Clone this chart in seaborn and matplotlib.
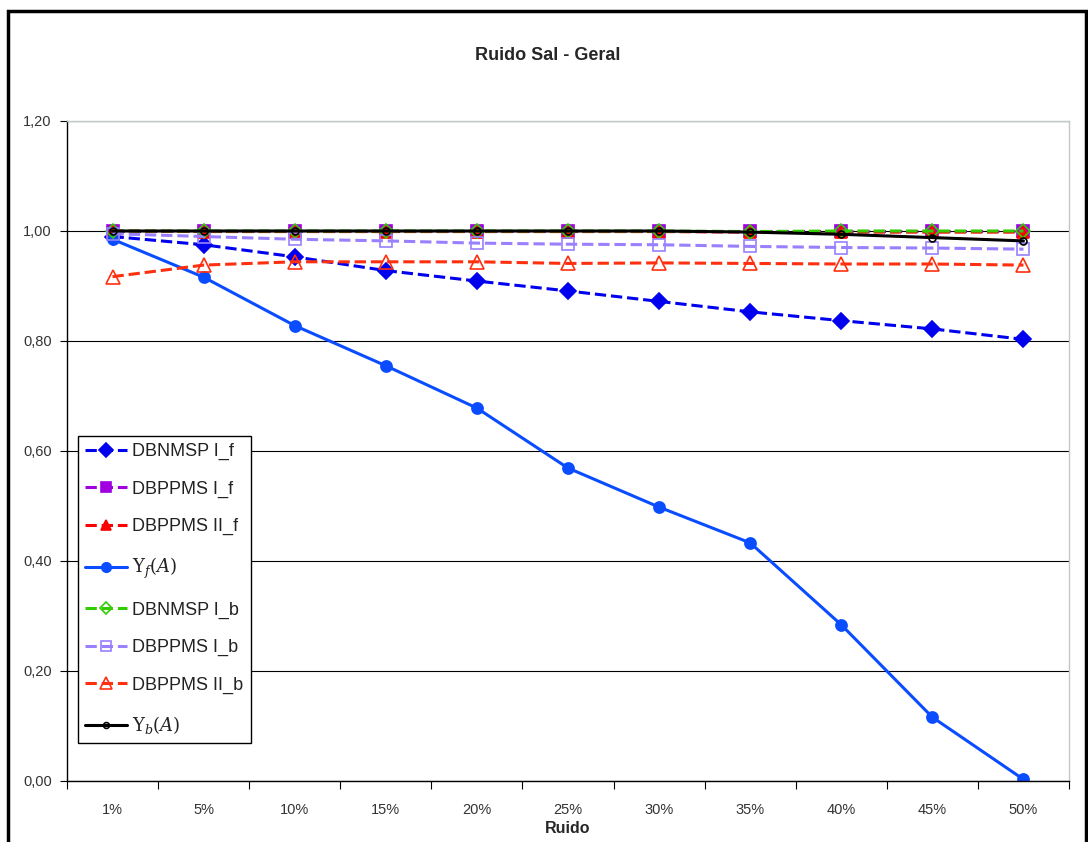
import numpy as np
import matplotlib
matplotlib.use('Agg')
import matplotlib.pyplot as plt
from matplotlib.patches import Rectangle
from matplotlib.ticker import FixedLocator, FuncFormatter
import seaborn as sns

# data
noise = ['1%', '5%', '10%', '15%', '20%', '25%', '30%', '35%', '40%', '45%', '50%']
dbnmsp_f = [0.990, 0.975, 0.953, 0.928, 0.909, 0.891, 0.872, 0.853, 0.837, 0.822, 0.803]
dbppms1_f = [1.000, 1.000, 1.000, 1.000, 1.000, 1.000, 1.000, 1.000, 1.000, 1.000, 1.000]
dbppms2_f = [1.000, 0.999, 0.999, 0.999, 0.999, 0.999, 0.999, 0.998, 0.998, 0.998, 0.998]
upsilon_f = [0.985, 0.916, 0.828, 0.755, 0.678, 0.569, 0.498, 0.433, 0.284, 0.116, 0.003]
dbnmsp_b = [1.000, 1.000, 1.000, 1.000, 1.000, 1.000, 1.000, 0.999, 1.000, 1.000, 1.000]
dbppms1_b = [0.995, 0.990, 0.985, 0.982, 0.978, 0.976, 0.975, 0.972, 0.970, 0.969, 0.967]
dbppms2_b = [0.917, 0.938, 0.944, 0.944, 0.944, 0.941, 0.942, 0.941, 0.940, 0.940, 0.938]
upsilon_b = [1.000, 1.000, 1.000, 1.000, 1.000, 1.000, 1.000, 0.998, 0.994, 0.988, 0.982]

sns.set_style('white')
plt.rcParams['font.family'] = ['Liberation Sans', 'DejaVu Sans']
plt.rcParams['mathtext.fontset'] = 'dejavuserif'

fig = plt.figure(figsize=(10.88, 8.42), dpi=100)
ax = fig.add_axes([67 / 1088, 1 - 781 / 842, 1002 / 1088, 660 / 842])

x = np.arange(len(noise))

# (values, label, colour, linestyle, marker, facecolour, markersize)
series = [
    (dbnmsp_f, 'DBNMSP I_f', '#0000ee', '--', 'D', '#0000ee', 8),
    (dbppms1_f, 'DBPPMS I_f', '#a000e0', '--', 's', '#a000e0', 8),
    (dbppms2_f, 'DBPPMS II_f', '#ff0000', '--', '^', '#ff0000', 8),
    (upsilon_f, r'$\Upsilon_f(A)$', '#0a4cff', '-', 'o', '#0a4cff', 8),
    (dbnmsp_b, 'DBNMSP I_b', '#33cc00', '--', 'D', 'none', 7),
    (dbppms1_b, 'DBPPMS I_b', '#9a80ff', '--', 's', 'none', 9),
    (dbppms2_b, 'DBPPMS II_b', '#ff3010', '--', '^', 'none', 10),
    (upsilon_b, r'$\Upsilon_b(A)$', '#000000', '-', 'o', 'none', 5),
]

for vals, label, color, ls, mk, fc, ms in series:
    sns.lineplot(x=x, y=vals, ax=ax, color=color, linestyle=ls, linewidth=2.2,
                 marker=mk, markersize=ms, markerfacecolor=fc,
                 markeredgecolor=color, markeredgewidth=1.2, label=label,
                 dashes=False if ls == '-' else [5, 4], legend=False)

ax.set_xlim(-0.5, len(noise) - 0.5)
ax.set_ylim(0, 1.2)
ax.set_xticks(x)
ax.set_xticklabels(noise)
ax.xaxis.set_minor_locator(FixedLocator(np.arange(-0.5, len(noise), 1.0)))
ax.tick_params(axis='x', which='major', length=0, pad=16, labelsize=10.5, labelcolor='#333333')
ax.tick_params(axis='x', which='minor', length=6, width=0.8, direction='out', color='black', bottom=True)
ax.set_yticks(np.arange(0, 1.21, 0.2))
ax.yaxis.set_major_formatter(FuncFormatter(lambda v, p: f'{v:.2f}'.replace('.', ',')))
ax.tick_params(axis='y', length=5, width=0.8, direction='out', color='black', left=True,
               labelsize=10.5, labelcolor='#333333', pad=6)

ax.yaxis.grid(True, color='black', linewidth=0.8)
ax.set_axisbelow(True)
ax.spines['left'].set_color('black')
ax.spines['bottom'].set_color('black')
ax.spines['top'].set_color('#c0c8c8')
ax.spines['right'].set_color('#c0c8c8')
for s in ax.spines.values():
    s.set_linewidth(1.0)

ax.set_xlabel('Ruido', fontsize=11.5, fontweight='bold', labelpad=3)
ax.set_ylabel('')
fig.text(548 / 1088, 1 - 55 / 842, 'Ruido Sal - Geral', ha='center', va='center',
         fontsize=13, fontweight='bold')

handles, labels = ax.get_legend_handles_labels()
leg = ax.legend(handles, labels, loc='lower left', bbox_to_anchor=(0.011, 0.057),
                borderaxespad=0, fontsize=13, labelspacing=1.13, handlelength=2.3,
                handletextpad=0.3, borderpad=0.4, fancybox=False, framealpha=1,
                edgecolor='black', markerscale=0.85)
leg.get_frame().set_linewidth(1.0)
for t in leg.get_texts():
    t.set_color('#222222')

# outer chart border
fig.patches.append(Rectangle((8 / 1088, -0.02), 1078 / 1088, 1 - 11 / 842 + 0.02,
                             transform=fig.transFigure, fill=False,
                             edgecolor='black', linewidth=2.5))

fig.savefig('out.png', dpi=100)
